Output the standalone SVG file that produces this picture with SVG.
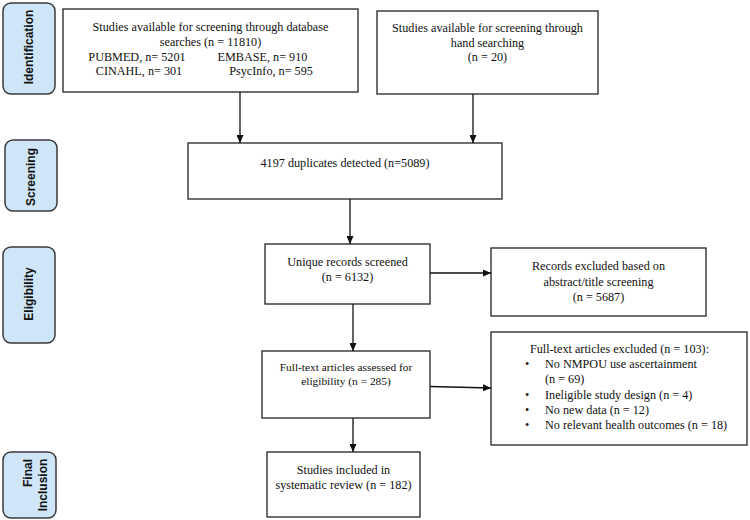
<svg xmlns="http://www.w3.org/2000/svg" width="750" height="520" viewBox="0 0 750 520">
<defs>
<marker id="ah" markerWidth="8" markerHeight="7" refX="8" refY="3.5" orient="auto" markerUnits="userSpaceOnUse">
<path d="M0,0 L8,3.5 L0,7 z" fill="#111"/>
</marker>
<style>
.box{fill:#fff;stroke:#222;stroke-width:1.3}
.side{fill:#cfe6f8;stroke:#3a3a3a;stroke-width:1.5}
.t{font-family:"Liberation Serif","Times New Roman",serif;font-size:12.2px;fill:#111;text-anchor:middle}
.ts{font-family:"Liberation Serif","Times New Roman",serif;font-size:12.2px;fill:#111}
.lab{font-family:"Liberation Sans",Arial,sans-serif;font-size:12px;font-weight:bold;fill:#111;text-anchor:middle}
.c{stroke:#111;stroke-width:1.3;fill:none;marker-end:url(#ah)}
</style>
</defs>
<rect width="750" height="520" fill="#fff"/>

<g id="lbl-identification">
<rect class="side" x="3" y="3" width="52" height="91" rx="8"/>
<text class="lab" transform="translate(33,47) rotate(-90)">Identification</text>
</g>
<g id="lbl-screening">
<rect class="side" x="5" y="140" width="52" height="71" rx="8"/>
<text class="lab" transform="translate(35,177) rotate(-90)">Screening</text>
</g>
<g id="lbl-eligibility">
<rect class="side" x="3" y="247" width="52" height="96" rx="8"/>
<text class="lab" transform="translate(33,294) rotate(-90)">Eligibility</text>
</g>
<g id="lbl-final">
<rect class="side" x="3" y="452" width="53" height="66" rx="8"/>
<text class="lab" transform="translate(32,473) rotate(-90)">Final</text>
<text class="lab" transform="translate(46.5,485) rotate(-90)">Inclusion</text>
</g>

<g id="n-database">
<rect class="box" x="63" y="9" width="295" height="83"/>
<text class="t" x="210.5" y="31">Studies available for screening through database</text>
<text class="t" x="210.5" y="46">searches (n = 11810)</text>
<text class="t" x="137" y="61">PUBMED, n= 5201</text>
<text class="t" x="262.5" y="61">EMBASE, n= 910</text>
<text class="t" x="139" y="75">CINAHL, n= 301</text>
<text class="t" x="271" y="75">PsycInfo, n= 595</text>
</g>

<g id="n-hand">
<rect class="box" x="377" y="11" width="221" height="83"/>
<text class="t" x="487.5" y="32">Studies available for screening through</text>
<text class="t" x="487.5" y="47">hand searching</text>
<text class="t" x="487.5" y="61">(n = 20)</text>
</g>

<g id="n-duplicates">
<rect class="box" x="188" y="143" width="314" height="56"/>
<text class="t" x="345" y="167">4197 duplicates detected (n=5089)</text>
</g>

<g id="n-unique">
<rect class="box" x="265" y="244" width="165" height="60"/>
<text class="t" x="347.5" y="266">Unique records screened</text>
<text class="t" x="347.5" y="281">(n = 6132)</text>
</g>

<g id="n-excluded-abstract">
<rect class="box" x="491" y="248" width="215" height="68"/>
<text class="t" x="598.5" y="270">Records excluded based on</text>
<text class="t" x="598.5" y="286">abstract/title screening</text>
<text class="t" x="598.5" y="301">(n =  5687)</text>
</g>

<g id="n-fulltext">
<rect class="box" x="262" y="351" width="168" height="67"/>
<text class="t" x="346" y="371" style="font-size:11.4px">Full-text articles assessed for</text>
<text class="t" x="346" y="385" style="font-size:11.4px">eligibility (n = 285)</text>
</g>

<g id="n-excluded-fulltext">
<rect class="box" x="491" y="332" width="256" height="113"/>
<text class="t" x="619.5" y="353">Full-text articles excluded (n = 103):</text>
<text class="ts" x="525" y="368">•</text>
<text class="ts" x="545" y="368">No NMPOU use ascertainment</text>
<text class="ts" x="545" y="383">(n = 69)</text>
<text class="ts" x="525" y="399">•</text>
<text class="ts" x="545" y="399">Ineligible study design (n = 4)</text>
<text class="ts" x="525" y="414">•</text>
<text class="ts" x="545" y="414">No new data (n = 12)</text>
<text class="ts" x="525" y="429">•</text>
<text class="ts" x="545" y="429">No relevant health outcomes (n = 18)</text>
</g>

<g id="n-included">
<rect class="box" x="267" y="452" width="153" height="65"/>
<text class="t" x="343.5" y="474">Studies included in</text>
<text class="t" x="343.5" y="489">systematic review (n = 182)</text>
</g>

<g id="connectors">
<line class="c" x1="240" y1="92" x2="240" y2="143"/>
<line class="c" x1="473" y1="94" x2="473" y2="143"/>
<line class="c" x1="350" y1="199" x2="350" y2="244"/>
<line class="c" x1="430" y1="273" x2="491" y2="273"/>
<line class="c" x1="353" y1="304" x2="353" y2="351"/>
<line class="c" x1="430" y1="386.5" x2="491" y2="388"/>
<line class="c" x1="353" y1="418" x2="353" y2="452"/>
</g>
</svg>
